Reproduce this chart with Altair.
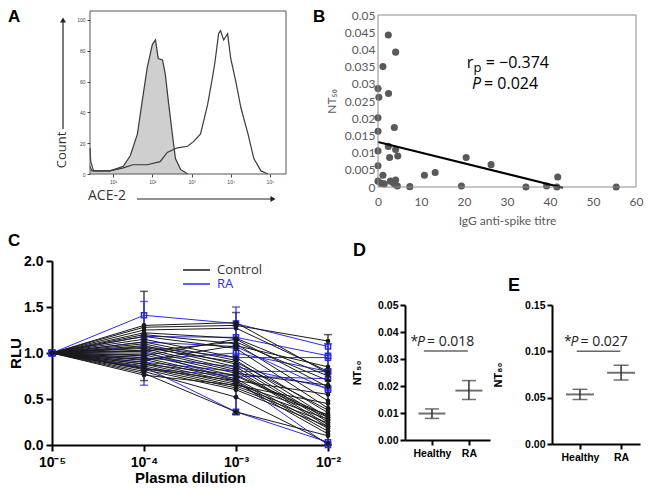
import altair as alt
import pandas as pd

# ---------------- Panel A: flow cytometry histograms (log10 ACE-2 vs count)
a_iso_log = [0.41, 0.46, 0.92, 1.26, 1.44, 1.62, 1.74, 1.87, 2.00, 2.08, 2.15, 2.26, 2.33, 2.41, 2.51, 2.59, 2.72, 2.90]
a_iso_cnt = [5, 2, 2, 5, 12, 26, 47, 69, 84, 87, 75, 74, 65, 47, 26, 10, 3, 0]
a_ace_log = [0.41, 0.43, 0.50, 0.92, 1.26, 1.50, 1.87, 2.20, 2.38, 2.64, 2.90, 3.05, 3.23, 3.41, 3.53,
             3.60, 3.69, 3.74, 3.82, 3.92, 4.00, 4.13, 4.26, 4.44, 4.59, 4.77, 4.95]
a_ace_cnt = [17, 8, 2, 2, 4, 6, 6, 8, 14, 17, 18, 21, 26, 45, 62, 73, 91, 93, 87, 91, 75, 60, 43, 26, 10, 2, 0]
a_xticks = [1, 2, 3, 4, 5]
a_xlabels = ["10¹", "10²", "10³", "10⁴", "10⁵"]
a_yticks = [0, 20, 40, 60, 80, 100]

# ---------------- Panel B: NT50 vs IgG anti-spike titre
b_titre = [2.4, 4.1, 1.15, 0, 0.2, 2.45, 0, 0, 3.8, 0, 2.4, 4.1, 2.7, 4.6, 0, 0, 1.15, 0.85, 1.45, 2.9,
           3.5, 4.1, 3.9, 4.5, 7.4, 10.8, 13.3, 19.4, 20.5, 26.3, 34.4, 39.2, 41.8, 41.6, 55.4]
b_nt50 = [0.0442, 0.0392, 0.0350, 0.0286, 0.0261, 0.0272, 0.0201, 0.0162, 0.0173, 0.0105, 0.0118, 0.0109,
          0.0086, 0.0090, 0.0062, 0.0017, 0.0034, 0.0010, 0.0009, 0.0017, 0.0013, 0.0020, 0.0008, 0.0003,
          0.0001, 0.0034, 0.0042, 0.0003, 0.0086, 0.0065, 0.0, 0.0003, 0.0029, 0.0, 0.0]
b_fit_x = [0, 43]
b_fit_y = [0.0131, -0.0002]
b_xticks = [0, 10, 20, 30, 40, 50, 60]
b_yticks = [0, 0.005, 0.01, 0.015, 0.02, 0.025, 0.03, 0.035, 0.04, 0.045, 0.05]

# ---------------- Panel C: RLU vs plasma dilution (log10)
c_dilution = [-5, -4, -3, -2]
c_xlabels = ["10⁻⁵", "10⁻⁴", "10⁻³", "10⁻²"]
control_rlu = [
    [1.0, 1.28, 1.30, 1.13], [1.0, 1.25, 1.27, 0.80], [1.0, 1.22, 1.16, 0.75], [1.0, 1.20, 1.10, 0.48],
    [1.0, 1.18, 1.05, 0.40], [1.0, 1.15, 0.95, 0.35], [1.0, 1.12, 0.92, 0.30], [1.0, 1.10, 0.88, 0.27],
    [1.0, 1.08, 0.85, 0.25], [1.0, 1.05, 0.82, 0.22], [1.0, 1.03, 0.80, 0.20], [1.0, 1.00, 0.78, 0.65],
    [1.0, 0.98, 0.75, 0.30], [1.0, 0.95, 0.72, 0.18], [1.0, 0.93, 0.70, 0.15], [1.0, 0.90, 0.68, 0.12],
    [1.0, 0.88, 0.66, 0.33], [1.0, 0.86, 0.64, 0.28], [1.0, 0.84, 0.62, 0.24], [1.0, 0.82, 0.60, 0.20],
    [1.0, 0.80, 0.52, 0.02], [1.0, 0.78, 0.36, 0.10], [1.0, 0.76, 0.65, 0.45], [1.0, 1.02, 1.12, 0.70],
    [1.0, 0.97, 1.15, 0.63], [1.0, 1.06, 0.90, 0.38], [1.0, 0.83, 0.70, 0.55], [1.0, 1.30, 1.33, 0.78],
    [1.0, 0.88, 0.76, 0.32], [1.0, 0.92, 1.08, 0.85],
]
ra_rlu = [
    [1.0, 1.41, 1.32, 1.07], [1.0, 1.18, 1.17, 0.97], [1.0, 1.07, 0.95, 0.95], [1.0, 0.93, 1.00, 0.80],
    [1.0, 0.83, 0.75, 0.72], [1.0, 0.85, 0.36, 0.03], [1.0, 0.95, 0.85, 0.62], [1.0, 1.02, 0.70, 0.00],
    [1.0, 0.90, 0.80, 0.80], [1.0, 1.12, 1.07, 0.60],
]
c_err_x = [-4, -4, -3, -3, -2, -2]
c_err_lo = [0.70, 0.65, 0.33, 0.34, 0.00, 0.00]
c_err_hi = [1.67, 1.56, 1.44, 1.50, 1.20, 1.10]
c_err_grp = ["Control", "RA", "Control", "RA", "Control", "RA"]
c_yticks = [0, 0.5, 1.0, 1.5, 2.0]

# ---------------- Panels D, E: group means with SEM
de_groups = ["Healthy", "RA"]
de_pos = [1, 2]
d_mean = [0.0098, 0.0183]
d_lo = [0.0080, 0.0150]
d_hi = [0.0115, 0.0220]
e_mean = [0.0535, 0.0770]
e_lo = [0.0480, 0.0690]
e_hi = [0.0590, 0.0850]
d_pline_x = [0.78, 1.97]
d_pline_y = 0.033
e_pline_x = [0.92, 1.98]
e_pline_y = 0.10
d_yticks = [0, 0.01, 0.02, 0.03, 0.04, 0.05]
e_yticks = [0, 0.05, 0.10, 0.15]

BLACK = "#1a1a1a"
BLUE = "#2b2bef"
ARIAL = "Liberation Sans"
SANS = "Open Sans"
GREY = "#595959"
TC = 40  # large tick count so explicit tick values are never thinned out

one = pd.DataFrame({"k": [0]})


def anchor(w, h):
    return alt.Chart(one).mark_rule(opacity=0, strokeOpacity=0).encode(
        x=alt.value(0), y=alt.value(0), x2=alt.value(w), y2=alt.value(h))


def frame(x0, y0, x1, y1, color):
    return alt.Chart(one).mark_rect(filled=False, stroke=color, strokeWidth=1).encode(
        x=alt.value(x0), y=alt.value(y0), x2=alt.value(x1), y2=alt.value(y1))


def txt(s, x, y, size, weight="normal", color="black", font=SANS, style="normal",
        align="left", baseline="alphabetic", angle=0):
    return alt.Chart(one).mark_text(
        text=s, align=align, baseline=baseline, fontSize=size, fontWeight=weight,
        color=color, font=font, fontStyle=style, angle=angle).encode(
        x=alt.value(x), y=alt.value(y))


def hrule(x0, x1, y, color, width=1.5):
    return alt.Chart(one).mark_rule(color=color, strokeWidth=width).encode(
        x=alt.value(x0), x2=alt.value(x1), y=alt.value(y))


def vrule(x, y0, y1, color, width=1.5):
    return alt.Chart(one).mark_rule(color=color, strokeWidth=width).encode(
        x=alt.value(x), y=alt.value(y0), y2=alt.value(y1))


def head(x, y, shape, color="#222", size=40):
    return alt.Chart(one).mark_point(shape=shape, filled=True, color=color, size=size, opacity=1).encode(
        x=alt.value(x), y=alt.value(y))


def lbl_expr(vals, labels):
    expr = "''"
    for v, l in reversed(list(zip(vals, labels))):
        expr = f"datum.value == {v} ? '{l}' : ({expr})"
    return expr


# Each panel is a box (w x h) whose plot region starts at (ox, oy) with size (pw, ph);
# scale ranges and negative axis offsets place the axes inside the box.

# ================= Panel A =================
AW, AH, AOX, AOY, APW, APH = 292, 222, 82, 2, 196, 163
a_iso = pd.DataFrame({"lx": a_iso_log, "cnt": a_iso_cnt})
a_ace = pd.DataFrame({"lx": a_ace_log, "cnt": a_ace_cnt})
ax_a = alt.X("lx:Q", scale=alt.Scale(domain=[0.41, 5.41], range=[AOX, AOX + APW], nice=False, zero=False),
             axis=alt.Axis(values=a_xticks, tickCount=TC, labelExpr=lbl_expr(a_xticks, a_xlabels), labelFontSize=5,
                           tickSize=3, domain=False, grid=False, title=None, labelColor="#444",
                           tickColor="#444", labelFlush=False, labelPadding=2, offset=AOY + APH - AH))
ay_a = alt.Y("cnt:Q", scale=alt.Scale(domain=[0, 105.8], range=[AOY + APH, AOY], nice=False),
             axis=alt.Axis(values=a_yticks, tickCount=TC, labelFontSize=5, tickSize=3, domain=False, grid=False,
                           title=None, labelColor="#444", tickColor="#444", labelPadding=2,
                           labelOverlap=False, offset=-AOX))
a_fill = alt.Chart(a_iso).mark_area(color="#cfcfcf").encode(x=ax_a, y=ay_a)
a_l1 = alt.Chart(a_iso).mark_line(color="#3a3a3a", strokeWidth=1.2).encode(x=ax_a, y=ay_a)
a_l2 = alt.Chart(a_ace).mark_line(color="#3a3a3a", strokeWidth=1.2).encode(x=ax_a, y=ay_a)
panel_a = alt.layer(
    anchor(AW, AH), a_fill, a_l1, a_l2,
    frame(AOX, AOY, AOX + APW, AOY + APH, "#555"),
    txt("A", 0, 0, 17, weight="bold", font=ARIAL, baseline="top"),
    txt("Count", 54, 141, 13, color="#333", align="center", baseline="middle", angle=270),
    vrule(55, 120, 11, "#222", 1.2), head(55, 11, "triangle-up", size=35),
    txt("ACE-2", 80, 187, 14, color="#333", baseline="middle"),
    hrule(129, 263, 190, "#222", 1.2), head(265, 190, "triangle-right", size=35),
).properties(width=AW, height=AH)

# ================= Panel B =================
BW, BH, BOX, BOY, BPW, BPH = 344, 222, 78, 6, 258, 172
b_df = pd.DataFrame({"titre": b_titre, "nt": b_nt50})
b_fit = pd.DataFrame({"titre": b_fit_x, "nt": b_fit_y})
ax_b = alt.X("titre:Q", scale=alt.Scale(domain=[0, 60], range=[BOX, BOX + BPW], nice=False),
             axis=alt.Axis(values=b_xticks, tickCount=TC, title="IgG anti-spike titre", labelFont="Lato",
                           labelFontSize=12, labelColor=GREY, titleFont="Lato", titleFontSize=12,
                           titleFontWeight="normal", titleColor=GREY, ticks=False, tickSize=0, domain=False,
                           grid=False, labelPadding=9, titlePadding=8, labelFlush=False, offset=BOY + BPH - BH))
ay_b = alt.Y("nt:Q", scale=alt.Scale(domain=[0, 0.05], range=[BOY + BPH, BOY], nice=False),
             axis=alt.Axis(values=b_yticks, tickCount=TC, format="~g", title="NT₅₀", labelFont="Lato",
                           labelFontSize=12, labelColor=GREY, titleFont="Lato", titleFontSize=12,
                           titleFontWeight="normal", titleColor=GREY, ticks=False, tickSize=0, domain=False,
                           grid=False, labelPadding=3, titlePadding=6, labelOverlap=False, offset=-BOX))
b_pts = alt.Chart(b_df).mark_circle(color="#595959", size=50, opacity=1).encode(x=ax_b, y=ay_b)
b_line = alt.Chart(b_fit).mark_line(color="black", strokeWidth=2).encode(x=ax_b, y=ay_b)
panel_b = alt.layer(
    anchor(BW, BH), b_pts, b_line,
    frame(BOX, BOY, BOX + BPW, BOY + BPH, "#8c8c8c"),
    txt("B", 13, 0, 17, weight="bold", font=ARIAL, baseline="top"),
    txt("r", 166.7, 58.7, 16, color="black"),
    txt("p", 173.5, 63, 13, color="black"),
    txt("= −0.374", 185.7, 58.7, 16, color="black"),
    txt("P", 172, 80.3, 16, style="italic", color="black"),
    txt("= 0.024", 184, 80.3, 16, color="black"),
).properties(width=BW, height=BH)

# ================= Panel C =================
CW, CH, COX, COY, CPW, CPH = 337, 255, 44, 30, 276, 184
rows = []
lid = 0
for grp, series in (("Control", control_rlu), ("RA", ra_rlu)):
    for vals in series:
        for d, v in zip(c_dilution, vals):
            rows.append({"id": lid, "grp": grp, "dil": d, "rlu": v})
        lid += 1
c_df = pd.DataFrame(rows)
c_err = pd.DataFrame({"dil": c_err_x, "lo": c_err_lo, "hi": c_err_hi, "grp": c_err_grp})

bold_axis = dict(domainWidth=2, domainColor="black", tickWidth=2, tickColor="black", labelFont=ARIAL,
                 labelFontWeight="bold", labelColor="black", titleFont=ARIAL, titleFontWeight="bold",
                 titleColor="black", grid=False, labelFlush=False, labelOverlap=False, tickCount=TC)
col = alt.Color("grp:N", scale=alt.Scale(domain=["Control", "RA"], range=[BLACK, BLUE]), legend=None)
cxs = alt.Scale(domain=[-5, -2], range=[COX, COX + CPW], nice=False, zero=False)
cxa = alt.Axis(values=c_dilution, labelExpr=lbl_expr(c_dilution, c_xlabels),
               title="Plasma dilution", labelFontSize=14, titleFontSize=15, tickSize=6,
               labelPadding=4, titlePadding=1, offset=COY + CPH - CH, **bold_axis)
cys = alt.Scale(domain=[0, 2], range=[COY + CPH, COY], nice=False)
cya = alt.Axis(values=c_yticks, format=".1f", title="RLU", labelFontSize=14,
               titleFontSize=15, tickSize=6, labelPadding=3, titlePadding=0, offset=-COX, **bold_axis)
ax_c = alt.X("dil:Q", scale=cxs, axis=cxa)
ay_c = alt.Y("rlu:Q", scale=cys, axis=cya)
ay_c_lo = alt.Y("lo:Q", scale=cys, axis=cya)
ay_c_hi = alt.Y("hi:Q", scale=cys, axis=cya)
c_ctrl = c_df[c_df.grp == "Control"]
c_ra = c_df[c_df.grp == "RA"]
c_l1 = alt.Chart(c_ctrl).mark_line(strokeWidth=1).encode(x=ax_c, y=ay_c, detail="id:N", color=col)
c_p1 = alt.Chart(c_ctrl).mark_point(shape="circle", filled=True, size=22, opacity=1).encode(
    x=ax_c, y=ay_c, color=col)
c_l2 = alt.Chart(c_ra).mark_line(strokeWidth=1).encode(x=ax_c, y=ay_c, detail="id:N", color=col)
c_p2 = alt.Chart(c_ra).mark_point(shape="square", filled=False, size=26, strokeWidth=1.5, opacity=1).encode(
    x=ax_c, y=ay_c, color=col)
c_eb = alt.Chart(c_err).mark_rule(strokeWidth=1.2).encode(x=ax_c, y=ay_c_lo, y2="hi:Q", color=col)
c_cap1 = alt.Chart(c_err).mark_tick(orient="horizontal", size=8, thickness=1.5).encode(
    x=ax_c, y=ay_c_lo, color=col)
c_cap2 = alt.Chart(c_err).mark_tick(orient="horizontal", size=8, thickness=1.5).encode(
    x=ax_c, y=ay_c_hi, color=col)
panel_c = alt.layer(
    anchor(CW, CH), c_l2, c_p2, c_l1, c_eb, c_cap1, c_cap2, c_p1,
    txt("C", 0, 2, 17, weight="bold", font=ARIAL, baseline="top"),
    hrule(175, 202, 39, BLACK, 1.5), txt("Control", 209, 39, 13, color="#333", baseline="middle"),
    hrule(175, 202, 53, BLUE, 1.5), txt("RA", 209, 53, 13, color=BLUE, baseline="middle"),
).properties(width=CW, height=CH)


# ================= Panels D and E =================
def summary_panel(mean, lo, hi, yticks, ymax, title, tpad, dom, box, mw, cw, pl_x, pl_y, ptxt, tx,
                  letter, lx, ly):
    w, h, ox, oy, pw, ph = box
    df = pd.DataFrame({"pos": de_pos, "grp": de_groups, "m": mean, "lo": lo, "hi": hi})
    pl = pd.DataFrame({"x1": [pl_x[0]], "x2": [pl_x[1]], "m": [pl_y]})
    xs = alt.Scale(domain=dom, range=[ox, ox + pw], nice=False, zero=False)
    ys = alt.Scale(domain=[0, ymax], range=[oy + ph, oy], nice=False)
    xa = alt.Axis(values=de_pos, labelExpr=lbl_expr(de_pos, de_groups), title=None,
                  labelFontSize=10.5, tickSize=5, labelPadding=3, offset=oy + ph - h, **bold_axis)
    ya = alt.Axis(values=yticks, format=".2f", title=title, labelFontSize=10.5,
                  titleFontSize=11, tickSize=5, labelPadding=2, titlePadding=tpad, offset=-ox, **bold_axis)
    axx = alt.X("pos:Q", scale=xs, axis=xa)
    axy = alt.Y("m:Q", scale=ys, axis=ya)
    ylo = alt.Y("lo:Q", scale=ys, axis=ya)
    yhi = alt.Y("hi:Q", scale=ys, axis=ya)
    mean_t = alt.Chart(df).mark_tick(orient="horizontal", size=mw, thickness=2, color="#333").encode(x=axx, y=axy)
    whisk = alt.Chart(df).mark_rule(color="#333", strokeWidth=1.5).encode(x=axx, y=ylo, y2="hi:Q")
    cap1 = alt.Chart(df).mark_tick(orient="horizontal", size=cw, thickness=1.5, color="#333").encode(
        x=axx, y=ylo)
    cap2 = alt.Chart(df).mark_tick(orient="horizontal", size=cw, thickness=1.5, color="#333").encode(
        x=axx, y=yhi)
    pline = alt.Chart(pl).mark_rule(color="#666", strokeWidth=1.5).encode(
        x=alt.X("x1:Q", scale=xs, axis=xa), x2="x2:Q", y=axy)
    return alt.layer(
        anchor(w, h), mean_t, whisk, cap1, cap2, pline,
        txt("*", tx[0], 115, 14, color="#222"),
        txt("P", tx[1], 115, 14, style="italic", color="#222"),
        txt(ptxt, tx[2], 115, 14, color="#222"),
        txt(letter, lx, ly, 18, weight="bold", font=ARIAL, color="black"),
    ).properties(width=w, height=h)


panel_d = summary_panel(d_mean, d_lo, d_hi, d_yticks, 0.05, "NT₅₀", 15, [0.27, 2.57], (147, 255, 60, 74, 85, 135),
                        27, 14, d_pline_x, d_pline_y, "= 0.018", [65.5, 72, 82], "D", 8, 25)
panel_e = summary_panel(e_mean, e_lo, e_hi, e_yticks, 0.15, "NT₈₀", 21, [0.32, 2.46], (152, 255, 60, 74, 88, 139),
                        28, 15, e_pline_x, e_pline_y, "= 0.027", [72, 78.5, 88.5], "E", 16, 60)

top = alt.hconcat(panel_a, panel_b, spacing=0)
bottom = alt.hconcat(panel_c, panel_d, panel_e, spacing=0)
chart = alt.vconcat(top, bottom, spacing=0).properties(
    padding={"left": 0, "top": 0, "right": 0, "bottom": 0}
).configure_view(stroke=None)

chart.save("out.html", embed_options={"renderer": "svg", "actions": False})
